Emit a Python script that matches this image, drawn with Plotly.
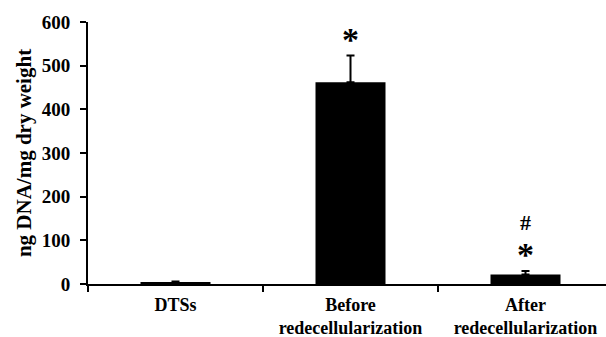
import plotly.graph_objects as go

categories = ["DTSs", "Before<br>redecellularization", "After<br>redecellularization"]
values = [4, 462, 22]
errors = [2, 61, 8]
marks_star = ["", "*", "*"]
marks_hash = ["", "", "#"]
y_ticks = [0, 100, 200, 300, 400, 500, 600]

FONT = "Times New Roman, Liberation Serif, serif"

fig = go.Figure()
fig.add_trace(go.Bar(
    x=categories, y=values,
    marker=dict(color="black", line=dict(width=0)),
    width=0.4,
    error_y=dict(type="data", array=errors, symmetric=False, arrayminus=[0, 0, 0],
                 color="black", thickness=2, width=4, visible=True),
    showlegend=False,
))

for c, v, e, s, h in zip(categories, values, errors, marks_star, marks_hash):
    if not s and not h:
        continue
    parts = []
    if h:
        parts.append("<span style='font-size:22px'>" + h + "</span>")
    if s:
        parts.append("<span style='font-size:34px'>" + s + "</span>")
    fig.add_annotation(x=c, y=v + e, text="<b>" + "<br>".join(parts) + "</b>",
                       showarrow=False, yanchor="bottom", yshift=-4,
                       font=dict(family=FONT, size=28, color="black"))

fig.update_layout(
    width=606, height=337,
    margin=dict(l=88, r=0, t=22, b=53),
    paper_bgcolor="white", plot_bgcolor="white",
    bargap=0.6,
    font=dict(family=FONT, color="black"),
)
fig.update_xaxes(
    range=[-0.5, 2.46], automargin=False,
    showline=True, linecolor="black", linewidth=2,
    ticks="outside", tickson="boundaries", ticklen=6, tickwidth=2, tickcolor="black",
    tickfont=dict(family=FONT, size=18, color="black", weight="bold"),
    ticklabelstandoff=3,
    showgrid=False, zeroline=False,
)
fig.update_yaxes(
    range=[0, 600], tickvals=y_ticks, automargin=False,
    showline=True, linecolor="black", linewidth=2,
    ticks="outside", ticklen=6, tickwidth=2, tickcolor="black",
    tickfont=dict(family=FONT, size=19, color="black", weight="bold"),
    ticklabelstandoff=6,
    title=dict(text="ng DNA/mg dry weight", font=dict(family=FONT, size=21, color="black", weight="bold"), standoff=4),
    showgrid=False, zeroline=False,
)

fig.write_html("out.html")
